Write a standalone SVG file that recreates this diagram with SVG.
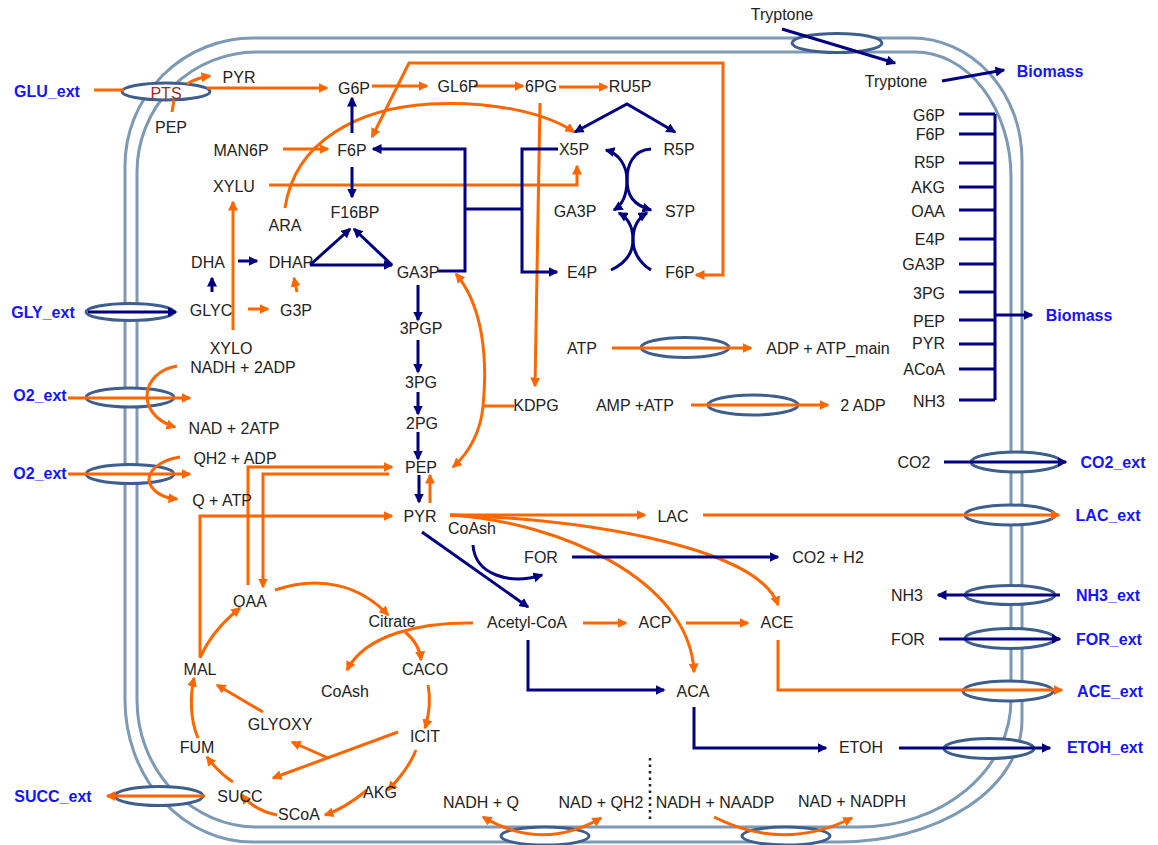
<svg xmlns="http://www.w3.org/2000/svg" width="1158" height="845" viewBox="0 0 1158 845">
<style>
.t{font-family:"Liberation Sans",Arial,sans-serif;font-size:16px;fill:#222;text-anchor:middle}
.r{text-anchor:end}
.b{font-family:"Liberation Sans",Arial,sans-serif;font-size:16px;font-weight:bold;fill:#1414ff;text-anchor:middle}
.o{fill:none;stroke:#ff6600;stroke-width:3}
.oa{marker-end:url(#ao)}
.os{marker-start:url(#ao)}
.n{fill:none;stroke:#000080;stroke-width:3}
.na{marker-end:url(#an)}
.ns{marker-start:url(#an)}
.tr{fill:#fff;stroke:#3e5e8e;stroke-width:3}
.mem{fill:none;stroke:#7c99b6;stroke-width:3}
</style>
<defs>
<marker id="ao" viewBox="0 0 10 10" refX="8.5" refY="5" markerWidth="10" markerHeight="10" markerUnits="userSpaceOnUse" orient="auto-start-reverse"><path d="M0,0 L10,5 L0,10 z" fill="#ff6600"/></marker>
<marker id="an" viewBox="0 0 10 10" refX="8.5" refY="5" markerWidth="10" markerHeight="10" markerUnits="userSpaceOnUse" orient="auto-start-reverse"><path d="M0,0 L10,5 L0,10 z" fill="#000080"/></marker>
</defs>
<rect width="1158" height="845" fill="#fff"/>
<g id="membrane">
<path class="mem" d="M 253 38 H 912 A 110 122 0 0 1 1022 160 V 720 A 183 122 0 0 1 839 842 H 253 A 128 142 0 0 1 125 700 V 166 A 128 128 0 0 1 253 38 Z"/>
<path class="mem" d="M 257 52 H 915 A 96 125 0 0 1 1011 177 V 700 A 152 127 0 0 1 859 827 H 257 A 120 127 0 0 1 137 700 V 172 A 120 120 0 0 1 257 52 Z"/>
</g>
<g id="transporters">
<g id="t-pts"><ellipse class="tr" cx="166" cy="91.5" rx="44" ry="8.5"/></g>
<g id="t-tryptone"><ellipse class="tr" cx="837" cy="43" rx="45" ry="9.5"/></g>
<g id="t-gly"><ellipse class="tr" cx="130" cy="312" rx="44" ry="8.5"/></g>
<g id="t-o2a"><ellipse class="tr" cx="130" cy="397.5" rx="44" ry="9.5"/></g>
<g id="t-o2b"><ellipse class="tr" cx="130" cy="474" rx="44" ry="9.5"/></g>
<g id="t-succ"><ellipse class="tr" cx="159" cy="796" rx="44" ry="9.5"/></g>
<g id="t-atpm"><ellipse class="tr" cx="685" cy="347.5" rx="44" ry="10"/></g>
<g id="t-amp"><ellipse class="tr" cx="753" cy="405" rx="45" ry="10"/></g>
<g id="t-co2"><ellipse class="tr" cx="1016" cy="462" rx="45" ry="10"/></g>
<g id="t-lac"><ellipse class="tr" cx="1010" cy="515" rx="45" ry="10"/></g>
<g id="t-nh3"><ellipse class="tr" cx="1010" cy="595" rx="45" ry="9.5"/></g>
<g id="t-for"><ellipse class="tr" cx="1010" cy="638.5" rx="45" ry="10"/></g>
<g id="t-ace"><ellipse class="tr" cx="1008" cy="691" rx="45" ry="10"/></g>
<g id="t-etoh"><ellipse class="tr" cx="989" cy="748.5" rx="45" ry="10"/></g>
<g id="t-nadh"><ellipse class="tr" cx="545" cy="836" rx="44" ry="9"/></g>
<g id="t-nadph"><ellipse class="tr" cx="786" cy="836" rx="44" ry="9"/></g>
</g>
<g id="connectors">
<!-- orange -->
<path class="o" d="M 94 90 H 124"/>
<path class="o oa" d="M 207 88 H 327"/>
<path class="o" d="M 172 112 L 174 100"/>
<path class="o oa" d="M 187 84 Q 196 78 210 76"/>
<path class="o oa" d="M 372 86 H 427"/>
<path class="o oa" d="M 474 86 H 523"/>
<path class="o oa" d="M 559 87 H 607"/>
<path class="o oa os" d="M 372 137 L 409 63 H 723 V 275 H 696"/>
<path class="o oa" d="M 283 149 H 328"/>
<path class="o oa" d="M 269 185 H 577 V 166"/>
<path class="o oa" d="M 285 208 C 295 140 360 108 430 104 C 490 101 545 112 574 132"/>
<path class="o oa" d="M 540 103 L 535 386"/>
<path class="o oa" d="M 233 330 V 202"/>
<path class="o oa" d="M 248 309 H 268"/>
<path class="o oa" d="M 297 292 L 294 278"/>
<path class="o" d="M 514 406 H 483"/>
<path class="o oa" d="M 483 406 C 489 345 478 300 456 274"/>
<path class="o oa" d="M 483 406 C 481 430 470 452 453 467"/>
<path class="o oa" d="M 430 503 V 475"/>
<path class="o oa" d="M 68 398 H 190"/>
<path class="o oa" d="M 177 366 C 140 372 135 415 175 427"/>
<path class="o oa" d="M 68 474 H 190"/>
<path class="o oa" d="M 180 457 C 160 460 145 472 150 484 C 155 494 165 498 177 499"/>
<path class="o oa" d="M 248 585 V 467 H 392"/>
<path class="o oa" d="M 389 474 H 263 V 587"/>
<path class="o oa" d="M 200 657 V 516 H 392"/>
<path class="o oa" d="M 450 515 H 645"/>
<path class="o oa" d="M 703 515 H 1059"/>
<path class="o oa" d="M 450 515 C 560 522 690 580 694 672"/>
<path class="o oa" d="M 450 515 C 600 520 760 550 778 605"/>
<path class="o oa" d="M 583 623 H 626"/>
<path class="o oa" d="M 686 623 H 748"/>
<path class="o oa" d="M 778 640 V 690 H 1062"/>
<path class="o oa" d="M 473 623 C 420 622 365 635 347 670"/>
<path class="o oa" d="M 405 632 C 415 640 420 650 421 660"/>
<path class="o oa" d="M 275 590 C 320 575 360 585 388 615"/>
<path class="o oa" d="M 428 685 C 431 700 429 715 425 728"/>
<path class="o oa" d="M 416 750 C 410 765 400 778 388 790"/>
<path class="o oa" d="M 367 790 C 355 800 340 810 325 815"/>
<path class="o oa" d="M 277 815 C 262 812 250 805 242 795"/>
<path class="o oa" d="M 233 782 C 222 775 213 765 207 757"/>
<path class="o oa" d="M 198 738 C 190 720 190 695 194 678"/>
<path class="o oa" d="M 200 658 C 210 635 225 620 240 608"/>
<path class="o oa" d="M 263 712 L 217 685"/>
<path class="o oa" d="M 398 732 L 273 778"/>
<path class="o oa" d="M 328 758 L 292 742"/>
<path class="o oa" d="M 205 796 H 107"/>
<path class="o oa" d="M 612 348 H 751"/>
<path class="o oa" d="M 691 405 H 828"/>
<path class="o oa os" d="M 483 817 Q 542 852 601 818"/>
<path class="o oa" d="M 714 817 Q 783 852 852 818"/>
<!-- navy -->
<path class="n na" d="M 88 312 H 176"/>
<path class="n na" d="M 782 29 L 895 63"/>
<path class="n na" d="M 942 81 L 1004 70"/>
<path class="n na" d="M 352 133 V 98"/>
<path class="n na" d="M 352 167 V 197"/>
<path class="n na ns" d="M 575 132 L 627 104 L 675 132"/>
<path class="n na" d="M 438 271 H 465 V 149 H 373"/>
<path class="n" d="M 465 209 H 522"/>
<path class="n na" d="M 558 149 H 522 V 272 H 557"/>
<path class="n na" d="M 238 261 H 257"/>
<path class="n na" d="M 212 292 V 278"/>
<path class="n na" d="M 310 265 L 350 229"/>
<path class="n na" d="M 310 265 H 392"/>
<path class="n na" d="M 392 265 L 354 229"/>
<path class="n na" d="M 418 285 V 320"/>
<path class="n na" d="M 418 340 V 372"/>
<path class="n na" d="M 418 392 V 414"/>
<path class="n na" d="M 418 432 V 459"/>
<path class="n na" d="M 419 475 V 502"/>
<path class="n na" d="M 422 532 L 528 607"/>
<path class="n na" d="M 473 545 C 475 575 510 585 542 575"/>
<path class="n na" d="M 572 557 H 778"/>
<path class="n na" d="M 528 640 V 690 H 664"/>
<path class="n na" d="M 694 707 V 748 H 826"/>
<path class="n na" d="M 899 748 H 1050"/>
<path class="n na" d="M 939 639 H 1060"/>
<path class="n na" d="M 1060 595 H 938"/>
<path class="n na" d="M 944 462 H 1066"/>
<path class="n na" d="M 651 149 C 633 150 627 165 627 180 C 627 195 622 205 614 210"/>
<path class="n na ns" d="M 651 210 C 633 205 627 195 627 180 C 627 165 618 153 606 150"/>
<path class="n na" d="M 611 270 C 628 262 633 250 633 240 C 633 228 638 218 647 213"/>
<path class="n na" d="M 651 270 C 638 262 633 250 633 240 C 633 228 628 218 619 213"/>
<path class="n" d="M 995 114 V 400 M 959 114 H 995 M 959 134 H 995 M 959 163 H 995 M 959 187 H 995 M 959 210 H 995 M 959 239 H 995 M 959 264 H 995 M 959 292 H 995 M 959 320 H 995 M 959 344 H 995 M 959 369 H 995 M 959 400 H 995"/>
<path class="n na" d="M 995 315 H 1032"/>
<path d="M 650 758 V 822" stroke="#222" stroke-width="2.5" stroke-dasharray="2.5 4" fill="none"/>
</g>
<g id="labels">
<g id="n-glu-ext"><text class="b" x="47" y="97">GLU_ext</text></g>
<g id="n-gly-ext"><text class="b" x="43" y="318">GLY_ext</text></g>
<g id="n-o2-ext-1"><text class="b" x="40" y="401">O2_ext</text></g>
<g id="n-o2-ext-2"><text class="b" x="40" y="479">O2_ext</text></g>
<g id="n-succ-ext"><text class="b" x="53" y="802">SUCC_ext</text></g>
<g id="n-biomass-1"><text class="b" x="1050" y="77">Biomass</text></g>
<g id="n-biomass-2"><text class="b" x="1079" y="321">Biomass</text></g>
<g id="n-co2-ext"><text class="b" x="1113" y="468">CO2_ext</text></g>
<g id="n-lac-ext"><text class="b" x="1108" y="521">LAC_ext</text></g>
<g id="n-nh3-ext"><text class="b" x="1108" y="601">NH3_ext</text></g>
<g id="n-for-ext"><text class="b" x="1109" y="645">FOR_ext</text></g>
<g id="n-ace-ext"><text class="b" x="1110" y="697">ACE_ext</text></g>
<g id="n-etoh-ext"><text class="b" x="1105" y="753">ETOH_ext</text></g>
<g id="n-pts"><text class="t" x="166" y="99" style="fill:#a0282a">PTS</text></g>
<g id="n-pyr-top"><text class="t" x="239" y="83">PYR</text></g>
<g id="n-pep-top"><text class="t" x="171" y="133">PEP</text></g>
<g id="n-g6p"><text class="t" x="354" y="94">G6P</text></g>
<g id="n-gl6p"><text class="t" x="458" y="92">GL6P</text></g>
<g id="n-6pg"><text class="t" x="541" y="92">6PG</text></g>
<g id="n-ru5p"><text class="t" x="630" y="92">RU5P</text></g>
<g id="n-man6p"><text class="t" x="241" y="156">MAN6P</text></g>
<g id="n-f6p"><text class="t" x="352" y="156">F6P</text></g>
<g id="n-x5p"><text class="t" x="574" y="155">X5P</text></g>
<g id="n-r5p"><text class="t" x="679" y="155">R5P</text></g>
<g id="n-xylu"><text class="t" x="234" y="192">XYLU</text></g>
<g id="n-f16bp"><text class="t" x="355" y="218">F16BP</text></g>
<g id="n-ara"><text class="t" x="285" y="231">ARA</text></g>
<g id="n-ga3p-ppp"><text class="t" x="575" y="217">GA3P</text></g>
<g id="n-s7p"><text class="t" x="680" y="217">S7P</text></g>
<g id="n-dha"><text class="t" x="208" y="268">DHA</text></g>
<g id="n-dhap"><text class="t" x="291" y="268">DHAP</text></g>
<g id="n-ga3p"><text class="t" x="418" y="278">GA3P</text></g>
<g id="n-e4p"><text class="t" x="582" y="278">E4P</text></g>
<g id="n-f6p-ppp"><text class="t" x="680" y="278">F6P</text></g>
<g id="n-glyc"><text class="t" x="211" y="316">GLYC</text></g>
<g id="n-g3p"><text class="t" x="296" y="316">G3P</text></g>
<g id="n-3pgp"><text class="t" x="421" y="334">3PGP</text></g>
<g id="n-xylo"><text class="t" x="231" y="354">XYLO</text></g>
<g id="n-nadh2adp"><text class="t" x="243" y="373">NADH + 2ADP</text></g>
<g id="n-atp"><text class="t" x="582" y="354">ATP</text></g>
<g id="n-atpmain"><text class="t" x="828" y="354">ADP + ATP_main</text></g>
<g id="n-3pg"><text class="t" x="421" y="388">3PG</text></g>
<g id="n-kdpg"><text class="t" x="536" y="411">KDPG</text></g>
<g id="n-ampatp"><text class="t" x="635" y="411">AMP +ATP</text></g>
<g id="n-2adp"><text class="t" x="863" y="411">2 ADP</text></g>
<g id="n-2pg"><text class="t" x="422" y="429">2PG</text></g>
<g id="n-nad2atp"><text class="t" x="234" y="434">NAD + 2ATP</text></g>
<g id="n-qh2adp"><text class="t" x="235" y="464">QH2 + ADP</text></g>
<g id="n-pep"><text class="t" x="421" y="473">PEP</text></g>
<g id="n-co2"><text class="t" x="914" y="468">CO2</text></g>
<g id="n-qatp"><text class="t" x="222" y="506">Q + ATP</text></g>
<g id="n-pyr"><text class="t" x="420" y="522">PYR</text></g>
<g id="n-lac"><text class="t" x="673" y="522">LAC</text></g>
<g id="n-coash-1"><text class="t" x="472" y="534">CoAsh</text></g>
<g id="n-for"><text class="t" x="541" y="563">FOR</text></g>
<g id="n-co2h2"><text class="t" x="828" y="563">CO2 + H2</text></g>
<g id="n-oaa"><text class="t" x="250" y="607">OAA</text></g>
<g id="n-nh3"><text class="t" x="907" y="601">NH3</text></g>
<g id="n-citrate"><text class="t" x="392" y="627">Citrate</text></g>
<g id="n-accoa"><text class="t" x="527" y="628">Acetyl-CoA</text></g>
<g id="n-acp"><text class="t" x="655" y="628">ACP</text></g>
<g id="n-ace"><text class="t" x="777" y="628">ACE</text></g>
<g id="n-for-2"><text class="t" x="908" y="645">FOR</text></g>
<g id="n-caco"><text class="t" x="425" y="675">CACO</text></g>
<g id="n-mal"><text class="t" x="200" y="675">MAL</text></g>
<g id="n-aca"><text class="t" x="693" y="697">ACA</text></g>
<g id="n-coash-2"><text class="t" x="345" y="697">CoAsh</text></g>
<g id="n-glyoxy"><text class="t" x="280" y="730">GLYOXY</text></g>
<g id="n-icit"><text class="t" x="425" y="742">ICIT</text></g>
<g id="n-fum"><text class="t" x="197" y="753">FUM</text></g>
<g id="n-etoh"><text class="t" x="861" y="753">ETOH</text></g>
<g id="n-akg"><text class="t" x="380" y="798">AKG</text></g>
<g id="n-succ"><text class="t" x="240" y="802">SUCC</text></g>
<g id="n-scoa"><text class="t" x="299" y="820">SCoA</text></g>
<g id="n-nadhq"><text class="t" x="481" y="808">NADH + Q</text></g>
<g id="n-nadqh2"><text class="t" x="601" y="808">NAD + QH2</text></g>
<g id="n-nadhnaadp"><text class="t" x="715" y="808">NADH + NAADP</text></g>
<g id="n-nadnadph"><text class="t" x="852" y="807">NAD + NADPH</text></g>
<g id="n-tryptone-ext"><text class="t" x="782" y="20">Tryptone</text></g>
<g id="n-tryptone"><text class="t" x="896" y="87">Tryptone</text></g>
<g id="n-bm-g6p"><text class="t r" x="945" y="121">G6P</text></g>
<g id="n-bm-f6p"><text class="t r" x="945" y="140">F6P</text></g>
<g id="n-bm-r5p"><text class="t r" x="945" y="168">R5P</text></g>
<g id="n-bm-akg"><text class="t r" x="945" y="193">AKG</text></g>
<g id="n-bm-oaa"><text class="t r" x="945" y="217">OAA</text></g>
<g id="n-bm-e4p"><text class="t r" x="945" y="245">E4P</text></g>
<g id="n-bm-ga3p"><text class="t r" x="945" y="270">GA3P</text></g>
<g id="n-bm-3pg"><text class="t r" x="945" y="299">3PG</text></g>
<g id="n-bm-pep"><text class="t r" x="945" y="327">PEP</text></g>
<g id="n-bm-pyr"><text class="t r" x="945" y="349">PYR</text></g>
<g id="n-bm-acoa"><text class="t r" x="945" y="375">ACoA</text></g>
<g id="n-bm-nh3"><text class="t r" x="945" y="407">NH3</text></g>
</g>
</svg>
